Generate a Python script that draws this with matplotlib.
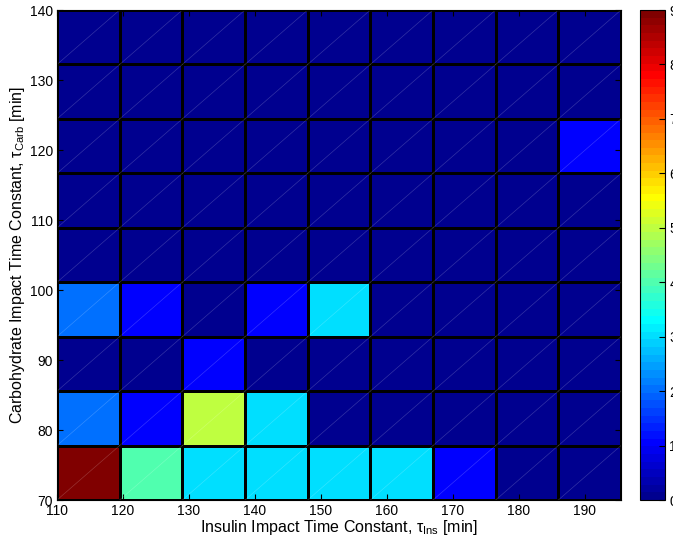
import matplotlib
matplotlib.use("Agg")
from matplotlib import pyplot as plt
from matplotlib.colors import ListedColormap
import numpy as np

plt.rcParams['font.family'] = ['Liberation Sans', 'DejaVu Sans']
plt.rcParams['mathtext.default'] = 'regular'

# bin edges (insulin x, carbohydrate y)
x_edges = np.linspace(110, 195.5, 10)
y_edges = np.linspace(70, 140, 10)

# counts per cell, row 0 = lowest carb bin
counts = [
    [9, 4, 3, 3, 3, 3, 1, 0, 0],
    [2, 1, 5, 3, 0, 0, 0, 0, 0],
    [0, 0, 1, 0, 0, 0, 0, 0, 0],
    [2, 1, 0, 1, 3, 0, 0, 0, 0],
    [0, 0, 0, 0, 0, 0, 0, 0, 0],
    [0, 0, 0, 0, 0, 0, 0, 0, 0],
    [0, 0, 0, 0, 0, 0, 0, 0, 1],
    [0, 0, 0, 0, 0, 0, 0, 0, 0],
    [0, 0, 0, 0, 0, 0, 0, 0, 0],
]
x_ticks = [110, 120, 130, 140, 150, 160, 170, 180, 190]
y_ticks = [70, 80, 90, 100, 110, 120, 130, 140]
cbar_ticks = list(range(10))


def matlab_jet(m=64):
    # same construction as MATLAB's jet(m)
    n = int(np.ceil(m / 4))
    u = np.concatenate([np.arange(1, n + 1) / n, np.ones(n - 1), np.arange(n, 0, -1) / n])
    g = int(np.ceil(n / 2)) - (1 if m % 4 == 1 else 0) + np.arange(1, len(u) + 1)
    r = g + n
    b = g - n
    cols = np.zeros((m, 3))
    for k, idx in enumerate((r, g, b)):
        ok = (idx >= 1) & (idx <= m)
        cols[idx[ok] - 1, k] = u[ok]
    return ListedColormap(cols)


fig = plt.figure(figsize=(6.73, 5.42), dpi=100)
ax = fig.add_axes([57/673, 42/542, 564/673, 490/542])
cax = fig.add_axes([640/673, 42/542, 25/673, 490/542])

cmap = matlab_jet(64)
mesh = ax.pcolormesh(x_edges, y_edges, np.array(counts), cmap=cmap, vmin=0, vmax=9,
                     edgecolors='black', linewidth=0.75)

# faint diagonals across each cell (renderer artefact in the original)
for i in range(len(x_edges) - 1):
    for j in range(len(y_edges) - 1):
        ax.plot([x_edges[i], x_edges[i + 1]], [y_edges[j], y_edges[j + 1]],
                color='white', lw=0.5, alpha=0.2)

ax.set_xlim(x_edges[0], x_edges[-1])
ax.set_ylim(y_edges[0], y_edges[-1])
ax.set_xticks(x_ticks)
ax.set_yticks(y_ticks)
ax.tick_params(direction='in', length=4, top=True, right=True, labelsize=10, pad=3)
ax.set_xlabel(r'Insulin Impact Time Constant, $\tau_{Ins}$ [min]', fontsize=11.5, labelpad=0)
ax.set_ylabel(r'Carbohydrate Impact Time Constant, $\tau_{Carb}$ [min]', fontsize=11.5, labelpad=2)
for s in ax.spines.values():
    s.set_linewidth(0.8)

cb = fig.colorbar(mesh, cax=cax, ticks=cbar_ticks)
cb.ax.tick_params(direction='in', length=4, labelsize=10, pad=3)
cb.outline.set_linewidth(0.8)

fig.savefig('out.png', dpi=100)
